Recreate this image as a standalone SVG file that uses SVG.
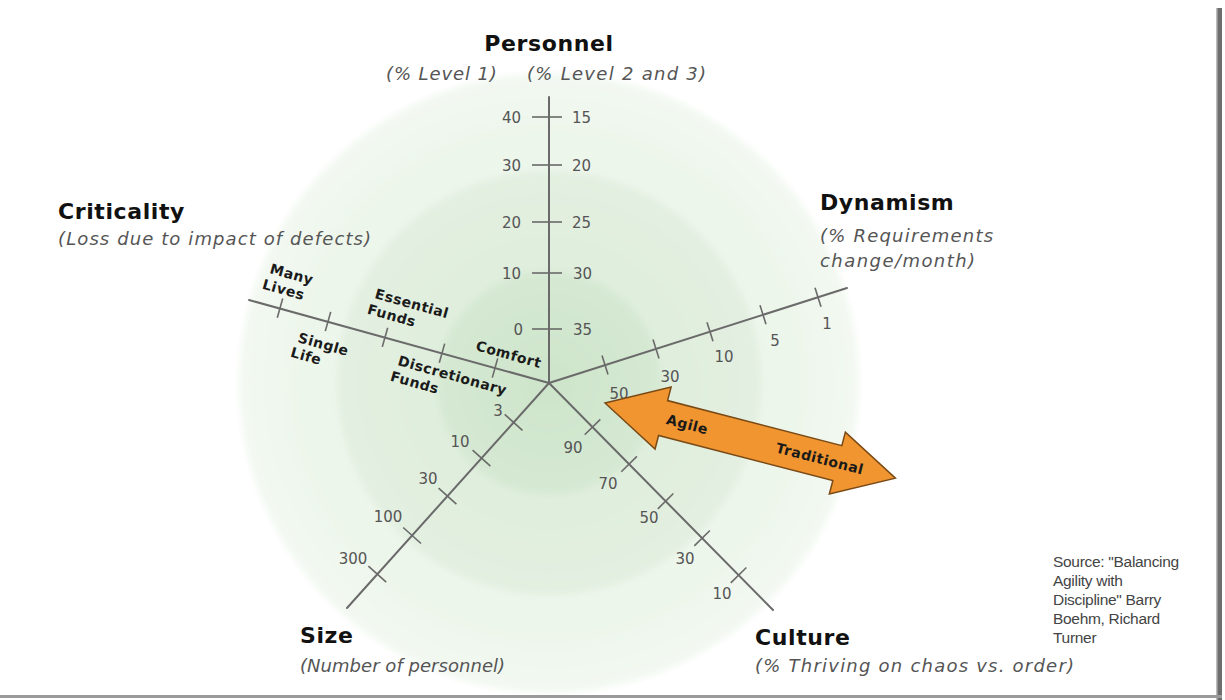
<svg xmlns="http://www.w3.org/2000/svg" width="1225" height="700" viewBox="0 0 1225 700">
  <defs>
    <style>
      .axis{stroke:#6a6a6a;stroke-width:2;fill:none;stroke-linecap:round}
      .tick{stroke:#6a6a6a;stroke-width:1.6;fill:none}
      .num{font-family:"DejaVu Sans","Verdana",sans-serif;font-size:15px;fill:#555;text-anchor:middle}
      .numL{font-family:"DejaVu Sans","Verdana",sans-serif;font-size:15px;fill:#555;text-anchor:end}
      .numR{font-family:"DejaVu Sans","Verdana",sans-serif;font-size:15px;fill:#555;text-anchor:start}
      .title{font-family:"DejaVu Sans","Verdana",sans-serif;font-weight:bold;font-size:22px;fill:#111;letter-spacing:0.6px}
      .sub{font-family:"DejaVu Sans","Verdana",sans-serif;font-style:italic;font-size:18px;fill:#555;letter-spacing:0.9px}
      .lvl{font-family:"DejaVu Sans","Verdana",sans-serif;font-weight:bold;font-size:14px;fill:#1a1a1a;letter-spacing:0.5px}
      .src{font-family:"Liberation Sans",Arial,sans-serif;font-size:15.5px;fill:#444;letter-spacing:-0.3px}
    </style>
    <radialGradient id="gOuter" cx="0.5" cy="0.5" r="0.5">
      <stop offset="0" stop-color="#e6f2e4"/>
      <stop offset="0.8" stop-color="#edf6eb"/>
      <stop offset="1" stop-color="#f3f9f2"/>
    </radialGradient>
    <radialGradient id="gMiddle" cx="0.5" cy="0.5" r="0.5">
      <stop offset="0" stop-color="#dcecd9"/>
      <stop offset="1" stop-color="#e3f0e1"/>
    </radialGradient>
    <radialGradient id="gInner" cx="0.5" cy="0.5" r="0.5">
      <stop offset="0" stop-color="#cde4ca"/>
      <stop offset="1" stop-color="#d6e9d3"/>
    </radialGradient>
    <filter id="soft" x="-10%" y="-10%" width="120%" height="120%">
      <feGaussianBlur stdDeviation="3"/>
    </filter>
  </defs>

  <rect width="1225" height="700" fill="#ffffff"/>

  <!-- concentric zones -->
  <g id="zones" filter="url(#soft)">
    <circle cx="549" cy="383" r="310" fill="url(#gOuter)"/>
    <circle cx="549" cy="383" r="212" fill="url(#gMiddle)"/>
    <circle cx="549" cy="383" r="112" fill="url(#gInner)"/>
  </g>

  <!-- frame edges -->
  <g id="frame">
    <rect x="1217" y="8" width="5" height="692" fill="#6e6e6e"/>
    <rect x="1216" y="8" width="1.5" height="692" fill="#bdbdbd"/>
    <rect x="0" y="695" width="1222" height="3" fill="#9a9a9a"/>
  </g>

  <g id="axes">
    <!-- Personnel axis -->
    <g id="personnel">
      <line class="axis" x1="549" y1="97" x2="549" y2="383"/>
      <line class="tick" x1="532" y1="117" x2="562" y2="117"/>
      <line class="tick" x1="532" y1="165" x2="562" y2="165"/>
      <line class="tick" x1="532" y1="222" x2="562" y2="222"/>
      <line class="tick" x1="532" y1="273" x2="562" y2="273"/>
      <line class="tick" x1="532" y1="329" x2="562" y2="329"/>
      <text class="numL" x="521" y="122.5">40</text>
      <text class="numL" x="521" y="170.5">30</text>
      <text class="numL" x="521" y="227.5">20</text>
      <text class="numL" x="521" y="278.5">10</text>
      <text class="numL" x="523" y="334.5">0</text>
      <text class="numR" x="572" y="122.5">15</text>
      <text class="numR" x="572" y="170.5">20</text>
      <text class="numR" x="572" y="227.5">25</text>
      <text class="numR" x="573" y="278.5">30</text>
      <text class="numR" x="573" y="334.5">35</text>
    </g>

    <!-- Criticality axis -->
    <g id="criticality">
      <line class="axis" x1="249" y1="300" x2="549" y2="383"/>
      <line class="tick" x1="277.3" y1="317.7" x2="282.7" y2="298.5"/>
      <line class="tick" x1="325.3" y1="331.1" x2="330.7" y2="311.9"/>
      <line class="tick" x1="382.3" y1="346.9" x2="387.7" y2="327.7"/>
      <line class="tick" x1="439.3" y1="362.8" x2="444.7" y2="343.6"/>
      <line class="tick" x1="492.3" y1="377.6" x2="497.7" y2="358.4"/>
      <g transform="translate(269 273) rotate(15.6)">
        <text class="lvl" x="0" y="0">Many</text>
        <text class="lvl" x="-3" y="17">Lives</text>
      </g>
      <g transform="translate(297 342) rotate(15.6)">
        <text class="lvl" x="0" y="0">Single</text>
        <text class="lvl" x="-3" y="16">Life</text>
      </g>
      <g transform="translate(374 298) rotate(15.6)">
        <text class="lvl" x="0" y="0">Essential</text>
        <text class="lvl" x="-3" y="17">Funds</text>
      </g>
      <g transform="translate(397 365) rotate(15.6)">
        <text class="lvl" x="0" y="0">Discretionary</text>
        <text class="lvl" x="-3" y="17">Funds</text>
      </g>
      <g transform="translate(475 350) rotate(15.6)">
        <text class="lvl" x="0" y="0">Comfort</text>
      </g>
    </g>

    <!-- Dynamism axis -->
    <g id="dynamism">
      <line class="axis" x1="549" y1="383" x2="847" y2="288"/>
      <line class="tick" x1="602" y1="355.6" x2="608" y2="374.6"/>
      <line class="tick" x1="653" y1="339.4" x2="659" y2="358.4"/>
      <line class="tick" x1="707" y1="322.2" x2="713" y2="341.2"/>
      <line class="tick" x1="760" y1="305.3" x2="766" y2="324.3"/>
      <line class="tick" x1="815" y1="287.7" x2="821" y2="306.7"/>
      <text class="num" x="619" y="398.5">50</text>
      <text class="num" x="670" y="381.5">30</text>
      <text class="num" x="724" y="361.5">10</text>
      <text class="num" x="775" y="345.5">5</text>
      <text class="num" x="827" y="328.5">1</text>
    </g>

    <!-- Size axis -->
    <g id="size">
      <line class="axis" x1="549" y1="383" x2="347" y2="608"/>
      <line class="tick" x1="504.7" y1="414.4" x2="522.5" y2="430.4"/>
      <line class="tick" x1="472.6" y1="450.1" x2="490.4" y2="466.1"/>
      <line class="tick" x1="438.6" y1="488.1" x2="456.4" y2="504.1"/>
      <line class="tick" x1="403.2" y1="527.5" x2="421" y2="543.5"/>
      <line class="tick" x1="368.4" y1="566.2" x2="386.2" y2="582.2"/>
      <text class="num" x="498" y="415.5">3</text>
      <text class="num" x="460" y="446.5">10</text>
      <text class="num" x="428" y="483.5">30</text>
      <text class="num" x="388" y="521.5">100</text>
      <text class="num" x="353" y="563.5">300</text>
    </g>

    <!-- Culture axis -->
    <g id="culture">
      <line class="axis" x1="549" y1="383" x2="773" y2="610"/>
      <line class="tick" x1="584.7" y1="434.8" x2="600.3" y2="419.4"/>
      <line class="tick" x1="621.3" y1="471.8" x2="636.9" y2="456.4"/>
      <line class="tick" x1="657.8" y1="508.9" x2="673.4" y2="493.5"/>
      <line class="tick" x1="694.3" y1="545.9" x2="709.9" y2="530.5"/>
      <line class="tick" x1="730.8" y1="582.9" x2="746.4" y2="567.5"/>
      <text class="num" x="573" y="452.5">90</text>
      <text class="num" x="608" y="488.5">70</text>
      <text class="num" x="649" y="522.5">50</text>
      <text class="num" x="685" y="563.5">30</text>
      <text class="num" x="722" y="598.5">10</text>
    </g>
  </g>

  <!-- Agile / Traditional double arrow -->
  <g id="agile-traditional" transform="translate(605 403) rotate(14.5)">
    <polygon points="0,0 60,-32 60,-18 240,-18 240,-32 300,0 240,32 240,18 60,18 60,32" fill="#f0952f" stroke="#7a4a16" stroke-width="1.5" stroke-linejoin="miter"/>
    <text class="lvl" x="85" y="5" text-anchor="middle">Agile</text>
    <text class="lvl" x="222" y="5" text-anchor="middle">Traditional</text>
  </g>

  <!-- axis titles -->
  <g id="title-personnel">
    <text class="title" x="549" y="51" text-anchor="middle">Personnel</text>
    <text class="sub" x="386" y="80">(% Level 1)</text>
    <text class="sub" x="527" y="80" textLength="180" lengthAdjust="spacing">(% Level 2 and 3)</text>
  </g>
  <g id="title-criticality">
    <text class="title" x="58" y="219">Criticality</text>
    <text class="sub" x="58" y="245" textLength="314" lengthAdjust="spacing">(Loss due to impact of defects)</text>
  </g>
  <g id="title-dynamism">
    <text class="title" x="820" y="210">Dynamism</text>
    <text class="sub" x="820" y="242" textLength="174" lengthAdjust="spacing">(% Requirements</text>
    <text class="sub" x="820" y="267" textLength="156" lengthAdjust="spacing">change/month)</text>
  </g>
  <g id="title-size">
    <text class="title" x="300" y="643">Size</text>
    <text class="sub" x="300" y="672" textLength="206" lengthAdjust="spacing">(Number of personnel)</text>
  </g>
  <g id="title-culture">
    <text class="title" x="755" y="645">Culture</text>
    <text class="sub" x="755" y="672" textLength="320" lengthAdjust="spacing">(% Thriving on chaos vs. order)</text>
  </g>

  <!-- citation -->
  <g id="source">
    <text class="src" x="1053" y="567">Source: "Balancing</text>
    <text class="src" x="1053" y="586">Agility with</text>
    <text class="src" x="1053" y="605">Discipline" Barry</text>
    <text class="src" x="1053" y="624">Boehm, Richard</text>
    <text class="src" x="1053" y="643">Turner</text>
  </g>
</svg>
